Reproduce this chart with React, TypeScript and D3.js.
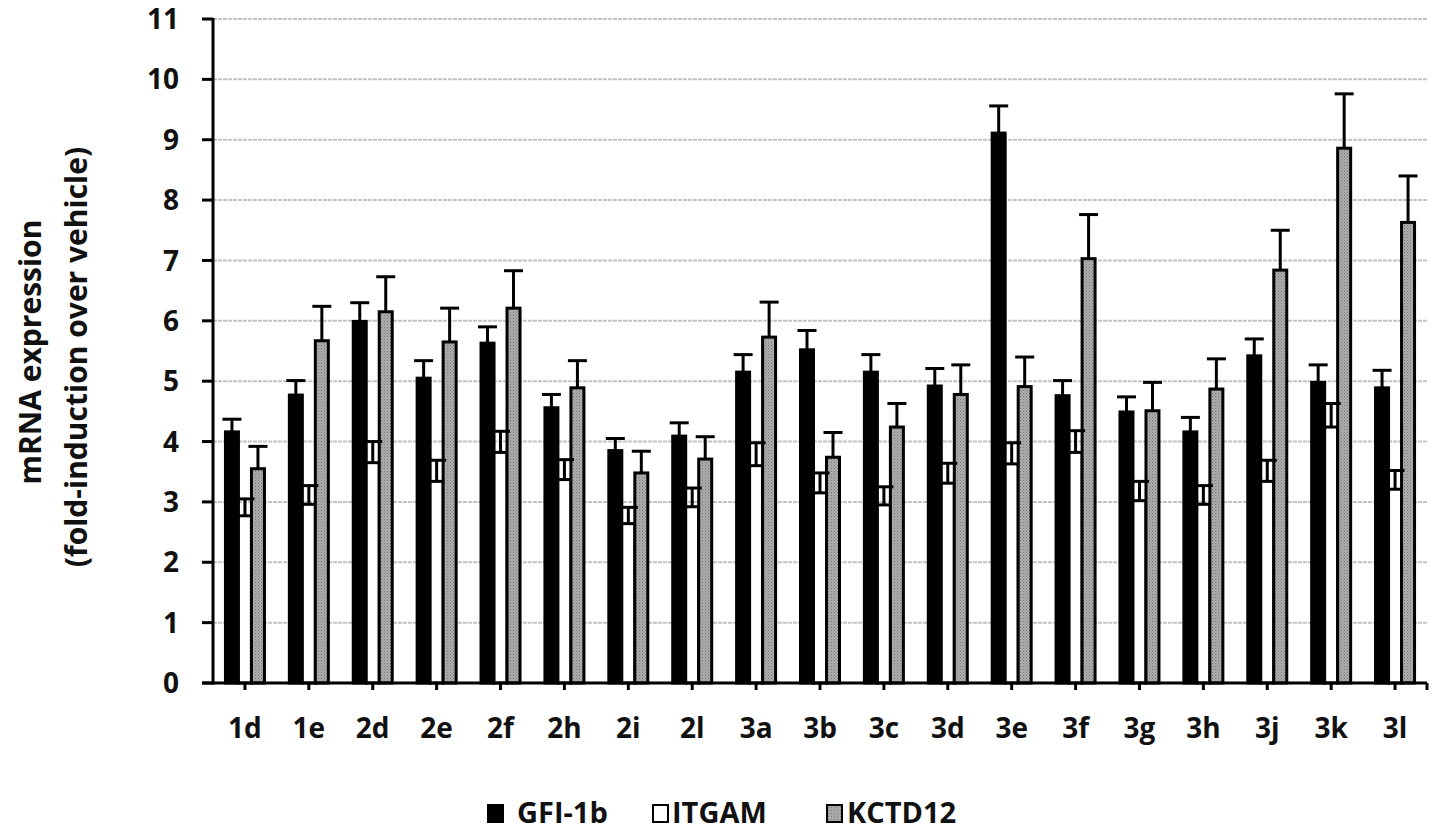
import React from "react";
import * as d3 from "d3";

const categories = ["1d","1e","2d","2e","2f","2h","2i","2l","3a","3b","3c","3d","3e","3f","3g","3h","3j","3k","3l"];
const seriesNames = ["GFI-1b", "ITGAM", "KCTD12"];
const gfi = [4.16,4.77,5.99,5.05,5.63,4.56,3.85,4.09,5.15,5.52,5.15,4.92,9.11,4.76,4.49,4.16,5.42,4.98,4.89];
const gfiErr = [0.21,0.24,0.31,0.29,0.27,0.22,0.20,0.22,0.29,0.32,0.29,0.29,0.45,0.25,0.25,0.24,0.28,0.29,0.29];
const itgam = [2.77,2.96,3.65,3.34,3.82,3.37,2.64,2.92,3.60,3.15,2.95,3.31,3.63,3.82,3.02,2.96,3.34,4.24,3.21];
const itgamErr = [0.28,0.31,0.35,0.35,0.35,0.33,0.27,0.31,0.38,0.33,0.30,0.33,0.35,0.36,0.32,0.31,0.35,0.39,0.31];
const kctd = [3.55,5.67,6.15,5.65,6.21,4.89,3.48,3.71,5.73,3.74,4.24,4.78,4.91,7.03,4.51,4.87,6.84,8.86,7.63];
const kctdErr = [0.37,0.57,0.58,0.56,0.62,0.45,0.36,0.37,0.58,0.41,0.39,0.49,0.49,0.73,0.47,0.50,0.66,0.90,0.77];
const yTicks = [0,1,2,3,4,5,6,7,8,9,10,11];

const seriesValues = [gfi, itgam, kctd];
const seriesErrors = [gfiErr, itgamErr, kctdErr];
const fills = ["#000000", "#ffffff", "#a0a0a0"];

const W = 1436, H = 832;
const X0 = 213, X1 = 1427, Y0 = 683, Y1 = 19;
const FONT = "'Open Sans', 'DejaVu Sans', sans-serif";

export default function App() {
  const x = d3.scaleBand<string>().domain(categories).range([X0, X1]).paddingInner(0).paddingOuter(0);
  const groupW = 39;
  const inner = d3.scaleBand<string>().domain(seriesNames).range([-groupW / 2, groupW / 2]).padding(0);
  const y = d3.scaleLinear().domain([0, 11]).range([Y0, Y1]);
  const capW = 19;

  return (
    <svg width={W} height={H} style={{ position: "absolute", left: 0, top: 0, background: "#fff" }}>
      <defs>
        <pattern id="dots" width="3" height="3" patternUnits="userSpaceOnUse">
          <rect width="3" height="3" fill="#adadad" />
          <rect width="1" height="1" fill="#777" />
          <rect x="1.5" y="1.5" width="1" height="1" fill="#888" />
        </pattern>
      </defs>
      {yTicks.filter(t => t > 0).map(t => (
        <line key={"g" + t} x1={X0} x2={X1} y1={y(t)} y2={y(t)} stroke="#c4c4c4" strokeWidth={2} strokeDasharray="4 1" />
      ))}
      {categories.map((c, i) => {
        const cx = (x(c) as number) + x.bandwidth() / 2;
        return (
          <g key={c}>
            {seriesNames.map((s, k) => {
              const v = seriesValues[k][i];
              const bx = cx + (inner(s) as number);
              return (
                <rect key={s} x={bx} y={y(v)} width={inner.bandwidth()} height={Y0 - y(v)}
                  fill={k === 2 ? "url(#dots)" : fills[k]} stroke="#000" strokeWidth={3} />
              );
            })}
            {seriesNames.map((s, k) => {
              const v = seriesValues[k][i];
              const e = seriesErrors[k][i];
              const mx = cx + (inner(s) as number) + inner.bandwidth() / 2;
              return (
                <g key={"e" + s}>
                  <line x1={mx} x2={mx} y1={y(v)} y2={y(v + e)} stroke="#000" strokeWidth={3} />
                  <line x1={mx - capW / 2} x2={mx + capW / 2} y1={y(v + e)} y2={y(v + e)} stroke="#000" strokeWidth={3} />
                </g>
              );
            })}
          </g>
        );
      })}
      <line x1={X0} x2={X0} y1={Y1 - 1} y2={Y0 + 1.5} stroke="#000" strokeWidth={3} />
      {yTicks.map(t => (
        <g key={"yt" + t}>
          <line x1={X0 - 11} x2={X0} y1={y(t)} y2={y(t)} stroke="#000" strokeWidth={3} />
          <text x={179} y={y(t)} dy="0.36em" textAnchor="end" fontFamily={FONT} fontWeight={700} fontSize={28} fill="#111">{t}</text>
        </g>
      ))}
      <line x1={X0 - 11} x2={X1} y1={Y0} y2={Y0} stroke="#000" strokeWidth={3} />
      {categories.map(c => {
        const cx = (x(c) as number) + x.bandwidth() / 2;
        return (
          <g key={"xt" + c}>
            <line x1={cx} x2={cx} y1={Y0} y2={Y0 + 7} stroke="#000" strokeWidth={3} />
            <text x={cx} y={738} textAnchor="middle" fontFamily={FONT} fontWeight={700} fontSize={28} fill="#111">{c}</text>
          </g>
        );
      })}
      <line x1={X1} x2={X1} y1={Y0} y2={Y0 + 7} stroke="#000" strokeWidth={3} />
      <g transform="translate(41,352) rotate(-90)">
        <text x={0} y={0} textAnchor="middle" fontFamily={FONT} fontWeight={700} fontSize={30} fill="#111">mRNA expression</text>
      </g>
      <g transform="translate(87,357) rotate(-90)">
        <text x={0} y={0} textAnchor="middle" fontFamily={FONT} fontWeight={700} fontSize={30} fill="#111">(fold-induction over vehicle)</text>
      </g>
      {[
        { sx: 488, tx: 517 },
        { sx: 653, tx: 672 },
        { sx: 827, tx: 847 },
      ].map((p, k) => (
        <g key={"lg" + k}>
          <rect x={p.sx} y={805} width={15} height={17} fill={k === 2 ? "url(#dots)" : fills[k]} stroke="#000" strokeWidth={2} />
          <text x={p.tx} y={823} fontFamily={FONT} fontWeight={700} fontSize={29} fill="#111">{seriesNames[k]}</text>
        </g>
      ))}
    </svg>
  );
}
